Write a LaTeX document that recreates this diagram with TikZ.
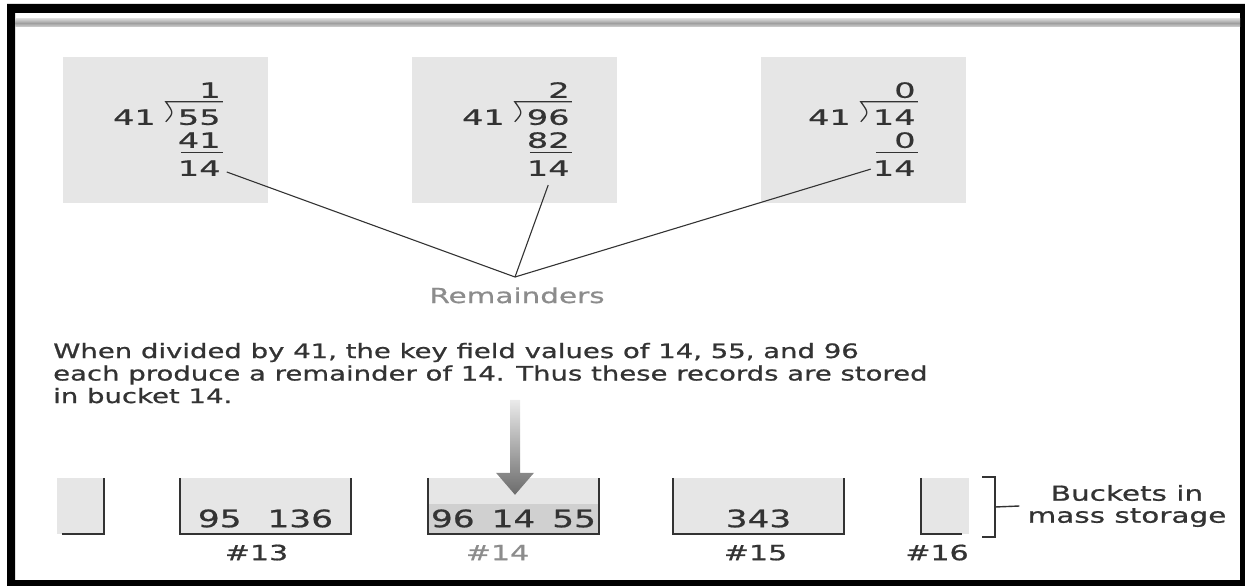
\documentclass[tikz,border=0pt]{standalone}
\usepackage{fontspec}
\setmainfont{DejaVu Sans}
\newfontfamily\txtfont{DejaVu Sans}[FakeStretch=1.43, FakeBold=0.8]
\newfontfamily\notefont{DejaVu Sans}[FakeStretch=1.39, FakeBold=0.9]
\newfontfamily\digfont{DejaVu Sans}[FakeStretch=1.6, FakeBold=0.5]
\usepackage{xcolor}
\usepackage{tikz}
\usetikzlibrary{positioning,calc}

\definecolor{boxgray}{HTML}{E6E6E6}
\definecolor{bktfull}{HTML}{D0D0D0}
\definecolor{inkgray}{HTML}{333333}
\definecolor{softgray}{HTML}{8C8C8C}

\begin{document}
\begin{tikzpicture}[
  x=1pt, y=-1pt,
  divbox/.style={fill=boxgray, minimum width=205pt, minimum height=146pt, inner sep=0pt},
  dig/.style={font=\digfont\fontsize{21pt}{21pt}\selectfont, text=inkgray, inner sep=0pt, anchor=base east},
  divrule/.style={draw=inkgray, line width=1.3pt},
  link/.style={draw=inkgray, line width=1.1pt},
  bucket/.style={fill=boxgray, minimum height=56pt, minimum width=171pt, inner sep=0pt},
  bktline/.style={draw=inkgray, line width=1.6pt},
  bktcontent/.style={font=\txtfont\fontsize{24pt}{24pt}\selectfont, text=inkgray, inner sep=0pt, anchor=base},
  numlbl/.style={font=\txtfont\fontsize{21pt}{21pt}\selectfont, text=inkgray, inner sep=0pt, anchor=base}
]
\useasboundingbox (0,0) rectangle (1245,586);

% frame
\fill[black, even odd rule] (7,4) rectangle (1245,586) (15,13) rectangle (1240,580);
\shade[top color=gray!35, bottom color=gray!35, middle color=gray!75] (15,19) rectangle (1240,27);

% (a) 55 / 41
\node[divbox] (box_a) at (165.5,130) {};
\begin{scope}[shift={(box_a.north west)}]
  \node[dig, anchor=base west] (dvs_a) at (50,68) {41};
  \node[dig] (quo_a) at (158,41) {1};
  \node[dig] (dvd_a) at (158,68) {55};
  \node[dig] (prd_a) at (158,91) {41};
  \node[dig] (rem_a) at (158,119) {14};
  \draw[divrule] (103,65) .. controls (111,56) .. (103,45) -- (160,45);
  \draw[divrule] (118,96) -- (160,96);
\end{scope}

% (b) 96 / 41
\node[divbox] (box_b) at (514.5,130) {};
\begin{scope}[shift={(box_b.north west)}]
  \node[dig, anchor=base west] (dvs_b) at (50,68) {41};
  \node[dig] (quo_b) at (158,41) {2};
  \node[dig] (dvd_b) at (158,68) {96};
  \node[dig] (prd_b) at (158,91) {82};
  \node[dig] (rem_b) at (158,119) {14};
  \draw[divrule] (103,65) .. controls (111,56) .. (103,45) -- (160,45);
  \draw[divrule] (118,96) -- (160,96);
\end{scope}

% (c) 14 / 41
\node[divbox] (box_c) at (863.5,130) {};
\begin{scope}[shift={(box_c.north west)}]
  \node[dig, anchor=base west] (dvs_c) at (47,68) {41};
  \node[dig] (quo_c) at (155,41) {0};
  \node[dig] (dvd_c) at (155,68) {14};
  \node[dig] (prd_c) at (155,91) {0};
  \node[dig] (rem_c) at (155,119) {14};
  \draw[divrule] (100,65) .. controls (108,56) .. (100,45) -- (157,45);
  \draw[divrule] (115,96) -- (157,96);
\end{scope}

% remainders
\coordinate (join) at (515,277);
\node[font=\txtfont\fontsize{20.6pt}{20.6pt}\selectfont, text=softgray, inner sep=0pt, anchor=base] (remain) at (517,303) {Remainders};
\draw[link] ([xshift=6pt,yshift=4pt]rem_a.south east) -- (join);
\draw[link] ([yshift=-9pt]rem_b.south) -- (join);
\draw[link] ([xshift=-2pt,yshift=-1pt]rem_c.west) -- (join);

% explanation
\node[inner sep=0pt, anchor=base west, text=inkgray] (note) at (53,358) {\notefont\fontsize{19.8pt}{22.5pt}\selectfont
  \begin{tabular}[t]{@{}l@{}}
  When divided by 41, the key field values of 14, 55, and 96\\
  each produce a remainder of 14. Thus these records are stored\\
  in bucket 14.
  \end{tabular}};

% buckets
\node[bucket, minimum width=47pt] (b12) at (80.5,506) {};
\node[bucket] (b13) at (265.5,506) {};
\node[bucket] (b14) at (513.5,506) {};
\node[bucket] (b15) at (758.5,506) {};
\node[bucket, minimum width=48pt] (b16) at (945,506) {};
\fill[bktfull] ([yshift=30pt]b14.south west) rectangle (b14.south east);

\draw[bktline] ([xshift=5pt]b12.south west) -- (b12.south east) -- (b12.north east);
\draw[bktline] (b13.north west) -- (b13.south west) -- (b13.south east) -- (b13.north east);
\draw[bktline] (b14.north west) -- (b14.south west) -- (b14.south east) -- (b14.north east);
\draw[bktline] (b15.north west) -- (b15.south west) -- (b15.south east) -- (b15.north east);
\draw[bktline] (b16.north west) -- (b16.south west) -- ([xshift=-7pt]b16.south east);

\node[bktcontent] (c13) at ([yshift=7pt]b13.south) {95\hspace{26pt}136};
\node[bktcontent] (c14) at ([yshift=7pt]b14.south) {96\hspace{17pt}14\hspace{17pt}55};
\node[bktcontent] (c15) at ([yshift=7pt]b15.south) {343};

\node[numlbl] (l13) at ([xshift=-9pt,yshift=-26pt]b13.south) {\#13};
\node[numlbl, text=softgray] (l14) at ([xshift=-16pt,yshift=-26pt]b14.south) {\#14};
\node[numlbl] (l15) at ([xshift=-3pt,yshift=-26pt]b15.south) {\#15};
\node[numlbl] (l16) at ([xshift=-8pt,yshift=-26pt]b16.south) {\#16};

% arrow into bucket 14
\coordinate (tip) at ($(b14.north)+(1.5,17)$);
\shade[top color=black!8, bottom color=black!58] (tip) -- ++(-19,-22) -- ++(14,0) -- ++(0,-73) -- ++(10,0) -- ++(0,73) -- ++(14,0) -- cycle;

% brace and caption
\node[font=\txtfont\fontsize{20.6pt}{22pt}\selectfont, text=inkgray, align=center, inner sep=0pt] (store) at (1127,506) {Buckets in\\mass storage};
\draw[bktline, line width=1.4pt] (982,477) -- (995,477) -- (995,537) -- (982,537);
\draw[bktline, line width=1.4pt] (995,507) -- ([xshift=-8pt]store.west);

\end{tikzpicture}
\end{document}
